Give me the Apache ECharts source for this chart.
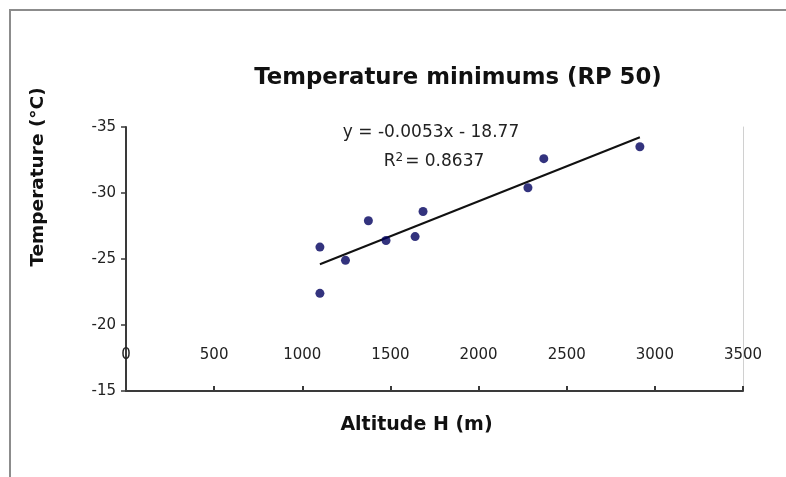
<!DOCTYPE html>
<html>
<head>
<meta charset="utf-8">
<script src="https://cdn.jsdelivr.net/npm/echarts@6/dist/echarts.min.js"></script>
<style>
  html, body { margin: 0; padding: 0; background: #fff; }
  #chart { width: 786px; height: 477px; }
</style>
</head>
<body>
<div id="chart"></div>
<script>
// Station altitudes (m) and 50-year return-period temperature minimums (°C)
var altitudes = [1100, 1100, 1245, 1375, 1475, 1640, 1685, 2280, 2370, 2915];
var tempMinimums = [-25.9, -22.4, -24.9, -27.9, -26.4, -26.7, -28.6, -30.4, -32.6, -33.5];

// Linear trend fitted to the stations
var trendSlope = [-0.0053];
var trendIntercept = [-18.77];
var trendR2 = [0.8637];

// Axis ticks
var xTicks = [0, 500, 1000, 1500, 2000, 2500, 3000, 3500];
var yTicks = [-35, -30, -25, -20, -15];

var font = '"DejaVu Sans", Verdana, sans-serif';

var points = altitudes.map(function (a, i) { return [a, tempMinimums[i]]; });
var xLo = Math.min.apply(null, altitudes);
var xHi = Math.max.apply(null, altitudes);
var trend = [xLo, xHi].map(function (x) { return [x, trendSlope[0] * x + trendIntercept[0]]; });

var chart = echarts.init(document.getElementById('chart'), null, { renderer: 'canvas' });

chart.setOption({
  backgroundColor: '#ffffff',
  animation: false,
  title: {
    text: 'Temperature minimums (RP 50)',
    left: 453,
    top: 62,
    textAlign: 'center',
    textStyle: { fontFamily: font, fontSize: 22.8, fontWeight: 'bold', color: '#111' }
  },
  grid: { left: 126, right: 43, top: 127, bottom: 86 },
  xAxis: {
    type: 'value',
    min: xTicks[0],
    max: xTicks[xTicks.length - 1],
    interval: 500,
    name: 'Altitude H (m)',
    nameLocation: 'middle',
    nameGap: 25,
    nameTextStyle: { fontFamily: font, fontSize: 19, fontWeight: 'bold', color: '#111', padding: [0, 36, 0, 0] },
    axisLine: { onZero: false, lineStyle: { color: '#3a3a3a', width: 2 } },
    axisTick: { inside: true, length: 5, lineStyle: { color: '#3a3a3a', width: 2 } },
    axisLabel: {
      inside: true, margin: 28, fontFamily: font, fontSize: 15, color: '#222',
      formatter: function (v) { return String(v); }
    },
    splitLine: { show: false }
  },
  yAxis: [{
    type: 'value',
    inverse: true,
    min: yTicks[0],
    max: yTicks[yTicks.length - 1],
    interval: 5,
    name: 'Temperature (°C)',
    nameLocation: 'middle',
    nameGap: 78,
    nameTextStyle: { fontFamily: font, fontSize: 18.5, fontWeight: 'bold', color: '#111', padding: [0, 0, 0, 164] },
    axisLine: { show: true, lineStyle: { color: '#3a3a3a', width: 2 } },
    axisTick: { show: true, length: 5, lineStyle: { color: '#3a3a3a', width: 1.5 } },
    axisLabel: { margin: 10, fontFamily: font, fontSize: 15, color: '#222' },
    splitLine: { show: false }
  }, {
    type: 'value',
    position: 'right',
    inverse: true,
    min: yTicks[0],
    max: yTicks[yTicks.length - 1],
    interval: 5,
    axisLine: { show: true, lineStyle: { color: '#d0d0d0', width: 1 } },
    axisTick: { show: false },
    axisLabel: { show: false },
    splitLine: { show: false }
  }],
  series: [{
    type: 'line',
    data: trend,
    showSymbol: false,
    lineStyle: { color: '#111', width: 2 },
    silent: true,
    z: 2
  }, {
    type: 'scatter',
    data: points,
    symbolSize: 9,
    itemStyle: { color: '#00005e' },
    z: 3
  }],
  graphic: [{
    type: 'polyline',
    shape: { points: [[10, 477], [10, 10], [786, 10]] },
    style: { stroke: '#8c8c8c', lineWidth: 2, fill: null },
    silent: true
  }, {
    type: 'text',
    x: 431,
    y: 124,
    style: {
      text: 'y = ' + trendSlope[0].toFixed(4) + 'x - ' + Math.abs(trendIntercept[0]).toFixed(2),
      fontFamily: font, fontSize: 17, fill: '#222', textAlign: 'center'
    }
  }, {
    type: 'text',
    x: 434,
    y: 152,
    style: {
      text: '{n|R}{s|2}{n|= ' + trendR2[0].toFixed(4) + '}',
      fontFamily: font, fill: '#222', textAlign: 'center',
      rich: {
        n: { fontFamily: font, fontSize: 17, fill: '#222' },
        s: { fontFamily: font, fontSize: 12, fill: '#222', verticalAlign: 'top', padding: [0, 2, 7, 0] }
      }
    }
  }]
});
</script>
</body>
</html>
